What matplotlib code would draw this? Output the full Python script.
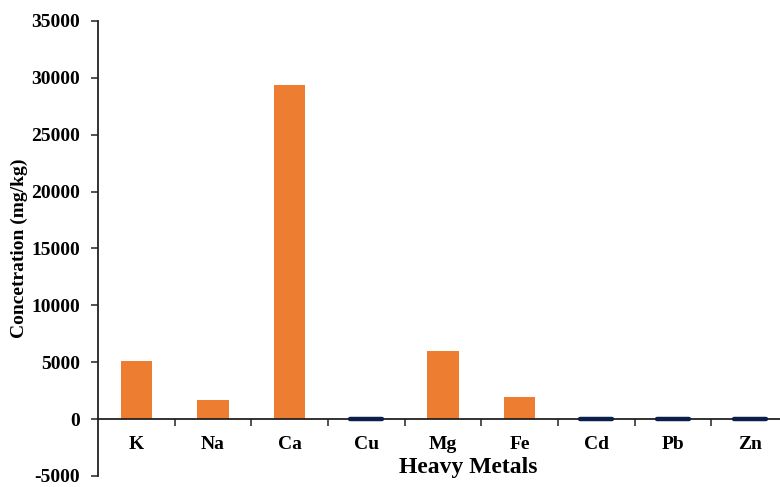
import matplotlib
matplotlib.use("Agg")
import matplotlib.pyplot as plt
import numpy as np

categories = ["K", "Na", "Ca", "Cu", "Mg", "Fe", "Cd", "Pb", "Zn"]
values = [5150, 1700, 29350, 25, 6000, 1950, 10, 15, 20]
series_colors = ["#ED7D31", "#ED7D31", "#ED7D31", "#0B1F4D", "#ED7D31",
                 "#ED7D31", "#0B1F4D", "#0B1F4D", "#0B1F4D"]
yticks = [-5000, 0, 5000, 10000, 15000, 20000, 25000, 30000, 35000]

plt.rcParams['font.family'] = ['Liberation Serif', 'DejaVu Serif']

W, H = 780, 487
fig = plt.figure(figsize=(W / 100, H / 100), dpi=100)
left, right, top, bottom = 98, 788, 21, 476
ax = fig.add_axes([left / W, (H - bottom) / H, (right - left) / W, (bottom - top) / H])

for s in ['top', 'right']:
    ax.spines[s].set_visible(False)
ax.spines['bottom'].set_position(('data', 0))
ax.spines['bottom'].set_linewidth(1.3)
ax.spines['bottom'].set_color('#222222')
ax.spines['left'].set_linewidth(1.3)
ax.spines['left'].set_color('#222222')

x = np.arange(len(categories))
for xi, v, c in zip(x, values, series_colors):
    if c == "#0B1F4D":
        ax.bar(xi, v, width=0.42, color=c, edgecolor=c, linewidth=3.2,
               capstyle='round', joinstyle='round', zorder=3)
    else:
        ax.bar(xi, v, width=0.41, color=c, edgecolor="none", zorder=2)

ax.set_xlim(-0.5, len(categories) - 0.5)
ax.set_ylim(-5000, 35000)
ax.set_yticks(yticks)
ax.set_yticklabels([str(t) for t in yticks], fontsize=14, fontweight='bold')

ax.set_xticks(x)
ax.set_xticklabels(categories, fontsize=14, fontweight='bold')
ax.tick_params(axis='x', which='major', length=0, pad=12)
ax.set_xticks(np.arange(0.5, len(categories) - 0.5, 1), minor=True)
ax.tick_params(axis='x', which='minor', length=5, width=1.2, direction='out', color='#333333')
ax.tick_params(axis='y', length=5, width=1.2, direction='out', color='#333333', pad=8)

fig.text(19 / W, 1 - 248 / H, "Concetration (mg/kg)", rotation=90, ha='center', va='center',
         fontsize=14, fontweight='bold')
fig.text(468 / W, 1 - 468 / H, "Heavy Metals", ha='center', va='center',
         fontsize=17, fontweight='bold')

fig.savefig("out.png", dpi=100)
